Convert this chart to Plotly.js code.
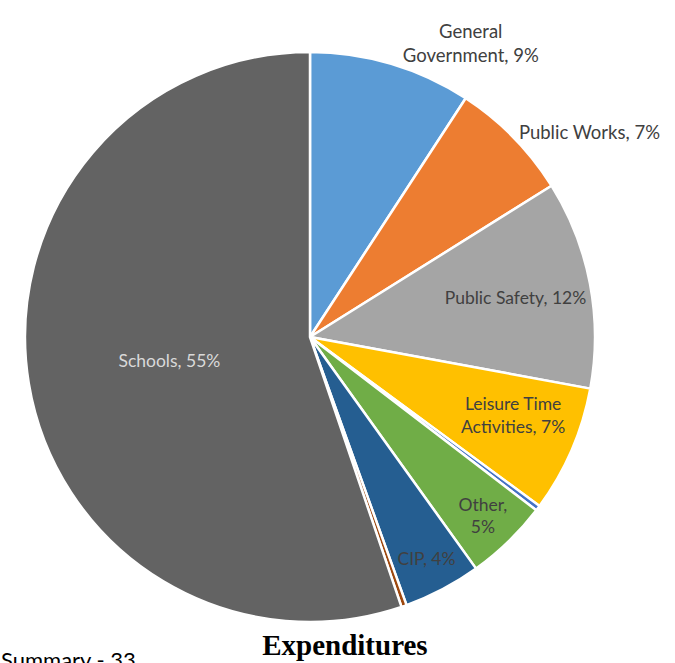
<!DOCTYPE html>
<html>
<head>
<meta charset="utf-8">
<script src="https://cdn.plot.ly/plotly-3.0.1.min.js"></script>
<style>html,body{margin:0;padding:0;background:#fff;}#chart{width:675px;height:663px;}</style>
</head>
<body>
<div id="chart"></div>
<script>
const categories = ["General Government", "Public Works", "Public Safety", "Leisure Time Activities", "Debt Service", "Other", "CIP", "Transfers", "Schools"];
const values = [9.2, 6.9, 11.8, 7.2, 0.3, 4.7, 4.4, 0.3, 55.2];
const labelTexts = ["General<br>Government, 9%", "Public Works, 7%", "Public Safety, 12%", "Leisure Time<br>Activities, 7%", "", "Other,<br>5%", "CIP, 4%", "", "Schools, 55%"];
const colors = ["#5B9BD5", "#ED7D31", "#A5A5A5", "#FFC000", "#4472C4", "#70AD47", "#255E91", "#9E480E", "#636363"];

const cx = 310, cy = 337, r = 285, W = 675, H = 663;
const labelFont = 'Lato, "Open Sans", sans-serif';
// Leisure label is drawn as an annotation so Plotly does not shrink it to fit the narrow wedge
const pieTexts = labelTexts.map((t, i) => i === 3 ? '' : t);
const trace = {
  type: 'pie',
  labels: categories,
  values: values,
  text: pieTexts,
  textinfo: 'text',
  texttemplate: '%{text}',
  hoverinfo: 'label+percent',
  sort: false,
  direction: 'clockwise',
  rotation: 0,
  marker: {colors: colors, line: {color: '#ffffff', width: 2.5}},
  textposition: ['outside', 'outside', 'inside', 'none', 'none', 'inside', 'inside', 'none', 'inside'],
  insidetextorientation: 'horizontal',
  textfont: {family: labelFont, size: 17.5, color: ['#404040','#404040','#404040','#404040','#404040','#404040','#404040','#404040','#D9D9D9']},
  outsidetextfont: {family: labelFont, size: 18.5, color: '#404040'},
  domain: {x: [(cx - r) / W, (cx + r) / W], y: [(H - cy - r) / H, (H - cy + r) / H]},
  automargin: false,
  showlegend: false
};

const layout = {
  width: W, height: H,
  margin: {l: 0, r: 0, t: 0, b: 0},
  paper_bgcolor: '#ffffff',
  showlegend: false,
  title: {text: '<b>Expenditures</b>', font: {family: '"Liberation Serif", serif', size: 29, color: '#000000'}, x: 0.511, xanchor: 'center', y: 18 / H, yref: 'container', yanchor: 'middle'},
  annotations: [
    {text: labelTexts[3], xref: 'paper', yref: 'paper', x: 513 / W, y: 1 - 415 / H, xanchor: 'center', yanchor: 'middle', showarrow: false, font: {family: labelFont, size: 17.5, color: '#404040'}},
    {text: 'Summary - 33', xref: 'paper', yref: 'paper', x: -0.002, y: -0.018, xanchor: 'left', yanchor: 'bottom', showarrow: false, font: {family: 'Lato, sans-serif', size: 22, color: '#000000'}}
  ]
};

Plotly.newPlot('chart', [trace], layout, {displayModeBar: false});
</script>
</body>
</html>
